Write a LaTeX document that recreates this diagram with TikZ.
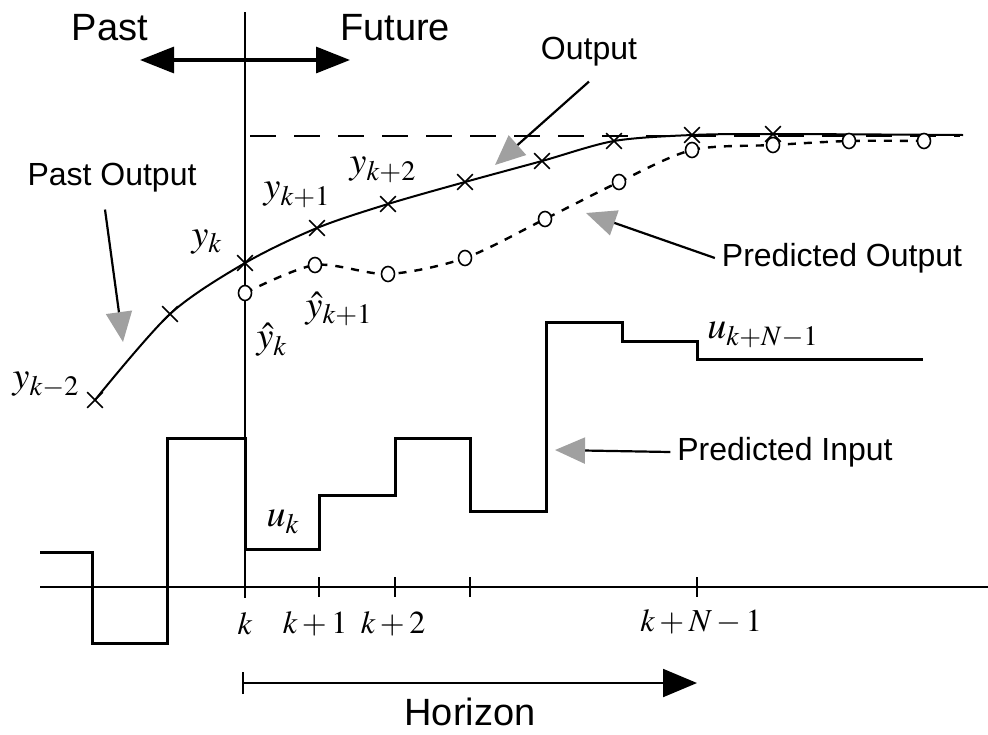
\documentclass[tikz,border=0pt]{standalone}
\usepackage{mathptmx}
\usepackage[no-math]{fontspec}
\setsansfont{Liberation Sans}
\usepackage{tikz}
\usetikzlibrary{arrows.meta,shapes.geometric,shapes.misc}
\definecolor{pointergray}{HTML}{A0A0A0}

\begin{document}
\begin{tikzpicture}[x=0.5pt,y=-0.5pt,
    thinline/.style={line width=0.9pt},
    stepline/.style={line width=1.5pt},
    outcurve/.style={line width=1pt},
    predcurve/.style={line width=1.2pt,dash pattern=on 4pt off 4pt},
    xmark/.style={draw,cross out,minimum size=7pt,inner sep=0pt,line width=0.8pt},
    omark/.style={draw,ellipse,fill=white,minimum width=6.5pt,minimum height=7.5pt,inner sep=0pt,line width=0.8pt},
    pointer/.style={line width=1.1pt,-{Triangle[length=15pt,width=13pt,color=pointergray]}},
    word/.style={font=\sffamily\fontsize{16}{19}\selectfont},
    bigword/.style={font=\sffamily\fontsize{19}{22}\selectfont},
    mlabel/.style={font=\fontsize{19}{22}\selectfont,inner sep=0.5pt},
    tlabel/.style={font=\fontsize{16}{19}\selectfont}]
\useasboundingbox (0,0) rectangle (988,734);

% time axis and present
\draw[thinline] (245,12) -- (245,598);
\draw[thinline] (40,587) -- (988,587);
\foreach \x in {319,395,470,697}
  \draw[line width=1.3pt] (\x,577) -- (\x,597);
\node[tlabel] (tk) at (245,624) {$k$};
\node[tlabel] (tk1) at (315,624) {$k+1$};
\node[tlabel] (tk2) at (393,624) {$k+2$};
\node[tlabel] (tkn) at (701,622) {$k+N-1$};

% past / future
\node[bigword] (past) at (110,28) {Past};
\node[bigword] (future) at (395,28) {Future};
\coordinate (pastend) at (140,60);
\coordinate (futend) at (350,60);
\draw[line width=1.6pt,{Triangle[length=17pt,width=13pt]}-{Triangle[length=17pt,width=13pt]}] (pastend) -- (futend);

% reference level
\draw[line width=1.3pt,dash pattern=on 13pt off 9pt] (250,136) -- (960,136);

% output
\foreach \name/\x/\y in {ym2/95/400,ym1/170/314,y0/245/263,y1/317/228,y2/388/204,
    y3/465/182,y4/542/161,y5/614/141,y6/692/135,y7/773/134}
  \coordinate (\name) at (\x,\y);
\coordinate (yend) at (963,135);
\draw[outcurve] plot[smooth,tension=0.5] coordinates {(ym2) (ym1) (y0) (y1) (y2) (y3) (y4) (y5) (y6) (y7) (yend)};
\foreach \name in {ym2,ym1,y0,y1,y2,y3,y4,y5,y6,y7}
  \node[xmark] (\name x) at (\name) {};

% predicted output
\foreach \name/\x/\y in {p0/245/293,p1/315/265,p2/388/274,p3/465/258,p4/545/219,
    p5/619/182,p6/692/150,p7/773/145,p8/849/141,p9/924/141}
  \coordinate (\name) at (\x,\y);
\draw[predcurve] plot[smooth,tension=0.5] coordinates {(p0) (p1) (p2) (p3) (p4) (p5) (p6) (p7) (p8) (p9)};
\foreach \name in {p0,p1,p2,p3,p4,p5,p6,p7,p8,p9}
  \node[omark] (\name o) at (\name) {};

\node[mlabel] (lykm2) at (46,385) {$y_{k-2}$};
\node[mlabel] (lyk) at (207,242) {$y_k$};
\node[mlabel] (lyk1) at (297,195) {$y_{k+1}$};
\node[mlabel] (lyk2) at (383,170) {$y_{k+2}$};
\node[mlabel] (lyhk) at (272,340) {$\hat{y}_k$};
\node[mlabel] (lyhk1) at (339,309) {$\hat{y}_{k+1}$};

% input
\draw[stepline] (40,552) -| (92,643) -| (167,438) -| (245,549) -| (319,495)
  -| (395,438) -| (470,511) -| (546,322) -| (622,341) -| (697,359) -- (923,359);
\node[mlabel] (luk) at (283,522) {$u_k$};
\node[mlabel] (lukn) at (763,335) {$u_{k+N-1}$};

% pointers
\node[word] (lout) at (589,52) {Output};
\coordinate (tout) at (495,165);
\draw[pointer] ([yshift=-4pt]lout.south) -- (tout);
\node[word] (lpast) at (112,178) {Past Output};
\coordinate (tpast) at (123,342);
\draw[pointer] ([xshift=-3.5pt,yshift=-5pt]lpast.south) -- (tpast);
\node[word] (lpred) at (842,258) {Predicted Output};
\coordinate (tpred) at (586,213);
\draw[pointer] (lpred.west) -- (tpred);
\node[word] (linp) at (785,452) {Predicted Input};
\coordinate (tinp) at (555,450);
\draw[pointer] (linp.west) -- (tinp);

% horizon
\coordinate (hstart) at (242,683);
\coordinate (hend) at (697,683);
\draw[line width=1pt,{Bar[width=11pt]}-{Triangle[length=17pt,width=14pt]}] (hstart) -- (hend);
\node[bigword] (horizon) at (470,712) {Horizon};
\end{tikzpicture}
\end{document}
